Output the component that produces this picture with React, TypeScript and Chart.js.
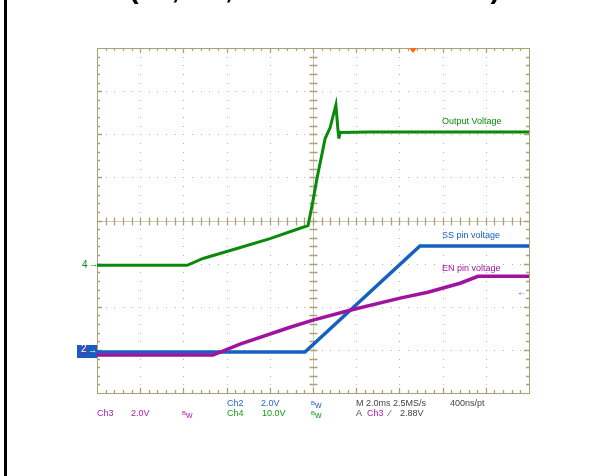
import React, { useEffect, useRef } from "react";
import { Chart, registerables } from "chart.js";

Chart.register(...registerables);

// Time base: 2.0 ms/div, 10 divisions
const MS_PER_DIV = 2;
const X_DIVS = 10;
const Y_DIVS = 8;

// Ch4: Output Voltage (10 V/div)
const outputTimeMs = [0, 4.17, 4.91, 6.48, 8.01, 9.4, 9.77, 10.0, 10.19, 10.42, 10.56, 10.79, 11.06, 11.16, 11.2, 11.25, 12.64, 16.0, 20];
const outputVolts = [0, 0, 1.6, 3.9, 6.2, 8.6, 9.2, 15.0, 20.3, 25.9, 29.4, 31.9, 37.2, 31.2, 29.4, 30.8, 30.9, 30.9, 30.9];

// Ch2: SS pin voltage (2 V/div)
const ssTimeMs = [0, 9.63, 14.95, 20];
const ssVolts = [0, 0, 4.92, 4.92];

// Ch3: EN pin voltage (2 V/div)
const enTimeMs = [0, 5.37, 6.62, 8.94, 10.0, 11.71, 14.03, 15.32, 16.81, 17.64, 20];
const enVolts = [0, 0, 0.51, 1.29, 1.62, 2.08, 2.64, 2.91, 3.33, 3.65, 3.65];

// channel scale (V/div) and ground offset (div from bottom)
const CH4_SCALE = 10;
const CH4_OFFSET = 2.96;
const CH2_SCALE = 2;
const CH2_OFFSET = 0.95;
const CH3_SCALE = 2;
const CH3_OFFSET = 0.88;

const GREEN = "#0a8a0a";
const BLUE = "#1560c0";
const PURPLE = "#a012a0";
const GRID = "rgb(170,162,118)";
const DOT = "rgb(185,178,140)";

function toPoints(t: number[], v: number[], scale: number, offset: number) {
  return t.map((x, i) => ({ x, y: offset + v[i] / scale }));
}

const graticule = {
  id: "graticule",
  beforeDatasetsDraw(chart: any) {
    const ctx = chart.ctx;
    const xs = chart.scales.x;
    const ys = chart.scales.y;
    const { left, right, top, bottom } = chart.chartArea;
    ctx.save();
    // dotted major lines
    ctx.fillStyle = DOT;
    for (let i = 1; i < X_DIVS; i++) {
      if (i === X_DIVS / 2) continue;
      const px = Math.round(xs.getPixelForValue(i * MS_PER_DIV));
      for (let j = 0; j <= Y_DIVS * 5; j++) {
        const py = Math.round(ys.getPixelForValue(j / 5));
        ctx.fillRect(px, py, 1, 1);
      }
    }
    for (let j = 1; j < Y_DIVS; j++) {
      if (j === Y_DIVS / 2) continue;
      const py = Math.round(ys.getPixelForValue(j));
      for (let i = 0; i <= X_DIVS * 5; i++) {
        const px = Math.round(xs.getPixelForValue((i / 5) * MS_PER_DIV));
        ctx.fillRect(px, py, 1, 1);
      }
    }
    // center lines
    ctx.strokeStyle = GRID;
    ctx.lineWidth = 1;
    const cx = Math.round(xs.getPixelForValue((X_DIVS / 2) * MS_PER_DIV)) + 0.5;
    const cy = Math.round(ys.getPixelForValue(Y_DIVS / 2)) + 0.5;
    ctx.globalAlpha = 0.6;
    ctx.beginPath();
    ctx.moveTo(cx, top);
    ctx.lineTo(cx, bottom);
    ctx.moveTo(left, cy);
    ctx.lineTo(right, cy);
    ctx.stroke();
    ctx.globalAlpha = 1;
    // ticks on center lines and edges
    ctx.lineWidth = 1.3;
    ctx.beginPath();
    for (let i = 1; i < X_DIVS * 5; i++) {
      const px = Math.round(xs.getPixelForValue((i / 5) * MS_PER_DIV)) + 0.5;
      const major = i % 5 === 0;
      const len = major ? 5 : 3;
      ctx.moveTo(px, top);
      ctx.lineTo(px, top + len);
      ctx.moveTo(px, bottom);
      ctx.lineTo(px, bottom - len);
      ctx.moveTo(px, cy - 4);
      ctx.lineTo(px, cy + 4);
    }
    for (let j = 1; j < Y_DIVS * 5; j++) {
      const py = Math.round(ys.getPixelForValue(j / 5)) + 0.5;
      const major = j % 5 === 0;
      const len = major ? 5 : 3;
      ctx.moveTo(left, py);
      ctx.lineTo(left + len, py);
      ctx.moveTo(right, py);
      ctx.lineTo(right - len, py);
      ctx.moveTo(cx - 4, py);
      ctx.lineTo(cx + 4, py);
    }
    ctx.stroke();
    // border
    ctx.lineWidth = 1;
    ctx.strokeRect(Math.round(left) + 0.5, Math.round(top) + 0.5, Math.round(right - left), Math.round(bottom - top));
    ctx.restore();
  },
};

const txt = (extra: React.CSSProperties): React.CSSProperties => ({
  position: "absolute",
  fontFamily: "'Liberation Sans', Arial, sans-serif",
  fontSize: 9,
  lineHeight: "10px",
  whiteSpace: "nowrap",
  ...extra,
});

function Bw({ color, left, top }: { color: string; left: number; top: number }) {
  return (
    <span style={txt({ left, top, color })}>
      <span style={{ fontSize: 6, verticalAlign: 3 }}>B</span>w
    </span>
  );
}

export default function App() {
  const ref = useRef<HTMLCanvasElement | null>(null);
  useEffect(() => {
    if (!ref.current) return;
    const chart = new Chart(ref.current, {
      type: "line",
      data: {
        datasets: [
          {
            label: "EN pin voltage",
            data: toPoints(enTimeMs, enVolts, CH3_SCALE, CH3_OFFSET),
            borderColor: PURPLE,
            borderWidth: 3.5,
            pointRadius: 0,
            tension: 0,
          },
          {
            label: "SS pin voltage",
            data: toPoints(ssTimeMs, ssVolts, CH2_SCALE, CH2_OFFSET),
            borderColor: BLUE,
            borderWidth: 3.5,
            pointRadius: 0,
            tension: 0,
          },
          {
            label: "Output Voltage",
            data: toPoints(outputTimeMs, outputVolts, CH4_SCALE, CH4_OFFSET),
            borderColor: GREEN,
            borderWidth: 3,
            pointRadius: 0,
            tension: 0,
          },
        ],
      },
      options: {
        animation: false,
        responsive: false,
        parsing: false as any,
        layout: { padding: { left: 97, right: 84, top: 48, bottom: 83 } },
        plugins: { legend: { display: false }, tooltip: { enabled: false } },
        scales: {
          x: { type: "linear", display: false, min: 0, max: X_DIVS * MS_PER_DIV },
          y: { type: "linear", display: false, min: 0, max: Y_DIVS },
        },
      },
      plugins: [graticule],
    });
    return () => chart.destroy();
  }, []);

  return (
    <div
      style={{
        position: "fixed",
        left: 0,
        top: 0,
        width: 613,
        height: 476,
        background: "#fff",
        overflow: "hidden",
      }}
    >
      <canvas ref={ref} width={613} height={476} style={{ position: "absolute", left: 0, top: 0, width: 613, height: 476 }} />
      <div style={{ position: "absolute", left: 4, top: 0, width: 3, height: 476, background: "#000" }} />
      <div
        style={{
          position: "absolute",
          left: 129,
          top: -26,
          fontFamily: "'Liberation Sans', Arial, sans-serif",
          fontWeight: "bold",
          fontSize: 29,
          lineHeight: "29px",
          whiteSpace: "nowrap",
          color: "#000",
        }}
      >
        (5V, 1A, EN CONTROLLED)
      </div>
      {/* trigger marker */}
      <div
        style={{
          position: "absolute",
          left: 409,
          top: 48,
          width: 0,
          height: 0,
          borderLeft: "4px solid transparent",
          borderRight: "4px solid transparent",
          borderTop: "5px solid #ff6a1a",
        }}
      />
      {/* trace labels */}
      <span style={txt({ left: 442, top: 116, color: GREEN })}>Output Voltage</span>
      <span style={txt({ left: 442, top: 230, color: BLUE })}>SS pin voltage</span>
      <span style={txt({ left: 442, top: 263, color: PURPLE })}>EN pin voltage</span>
      {/* ground markers */}
      <span style={txt({ left: 82, top: 260, color: GREEN, fontSize: 10 })}>4</span>
      <span style={txt({ left: 89, top: 259, color: GREEN, fontSize: 9 })}>→</span>
      <div style={{ position: "absolute", left: 77, top: 345, width: 20, height: 13, background: "#1a5cc0" }} />
      <span style={txt({ left: 81, top: 346, color: PURPLE, fontSize: 10 })}>3</span>
      <span style={txt({ left: 81, top: 344, color: "#fff", fontSize: 10 })}>2</span>
      <span style={txt({ left: 88, top: 345, color: "#fff", fontSize: 9 })}>→</span>
      <span style={txt({ left: 517, top: 287, color: PURPLE, fontSize: 10 })}>←</span>
      {/* readouts */}
      <span style={txt({ left: 227, top: 398, color: "#2a62d0" })}>Ch2</span>
      <span style={txt({ left: 261, top: 398, color: "#2a62d0" })}>2.0V</span>
      <Bw color="#2a62d0" left={311} top={398} />
      <span style={txt({ left: 356, top: 398, color: "#444" })}>M 2.0ms 2.5MS/s</span>
      <span style={txt({ left: 450, top: 398, color: "#444" })}>400ns/pt</span>
      <span style={txt({ left: 97, top: 408, color: "#b020b0" })}>Ch3</span>
      <span style={txt({ left: 131, top: 408, color: "#b020b0" })}>2.0V</span>
      <Bw color="#b020b0" left={182} top={408} />
      <span style={txt({ left: 227, top: 408, color: "#149a14" })}>Ch4</span>
      <span style={txt({ left: 262, top: 408, color: "#149a14" })}>10.0V</span>
      <Bw color="#149a14" left={311} top={408} />
      <span style={txt({ left: 356, top: 408, color: "#444" })}>A</span>
      <span style={txt({ left: 367, top: 408, color: "#b020b0" })}>Ch3</span>
      <span style={txt({ left: 389, top: 408, color: "#444" })}>⁄</span>
      <span style={txt({ left: 400, top: 408, color: "#444" })}>2.88V</span>
    </div>
  );
}
